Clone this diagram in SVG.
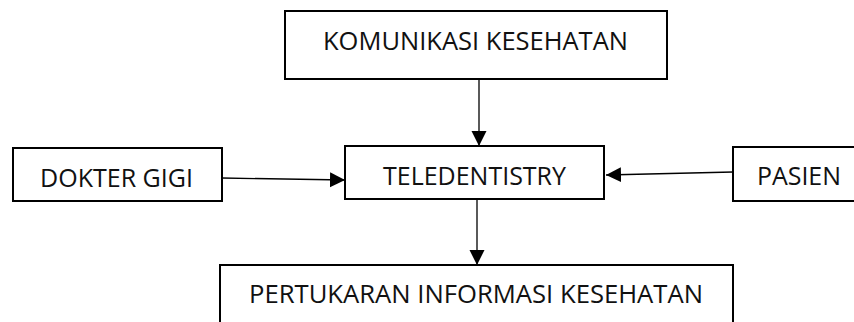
<svg xmlns="http://www.w3.org/2000/svg" width="854" height="322" viewBox="0 0 854 322">
<defs>
<style>
.box{fill:#fff;stroke:#000;stroke-width:2}
.lbl{font-family:"Open Sans","Liberation Sans",sans-serif;font-size:25.5px;fill:#111}
.con{stroke:#000;stroke-width:1.3;fill:none}
</style>
<marker id="ah" markerWidth="16" markerHeight="16" refX="15" refY="7.5" orient="auto" markerUnits="userSpaceOnUse">
<path d="M0,0 L15,7.5 L0,15 Z" fill="#000"/>
</marker>
</defs>
<rect width="854" height="322" fill="#fff"/>
<g id="komunikasi">
<rect class="box" x="285" y="11" width="382" height="68"/>
<text class="lbl" x="323" y="50" textLength="305" lengthAdjust="spacingAndGlyphs">KOMUNIKASI KESEHATAN</text>
</g>
<g id="teledentistry">
<rect class="box" x="345" y="146" width="259" height="53"/>
<text class="lbl" x="383" y="185" textLength="183" lengthAdjust="spacingAndGlyphs">TELEDENTISTRY</text>
</g>
<g id="dokter">
<rect class="box" x="13" y="148" width="209" height="53"/>
<text class="lbl" x="40" y="187" textLength="153" lengthAdjust="spacingAndGlyphs">DOKTER GIGI</text>
</g>
<g id="pasien">
<rect class="box" x="733" y="147" width="140" height="54"/>
<text class="lbl" x="757" y="185" textLength="84" lengthAdjust="spacingAndGlyphs">PASIEN</text>
</g>
<g id="pertukaran">
<rect class="box" x="220" y="265" width="513" height="80"/>
<text class="lbl" x="249" y="303" textLength="454" lengthAdjust="spacingAndGlyphs">PERTUKARAN INFORMASI KESEHATAN</text>
</g>
<g id="connectors">
<line class="con" x1="479" y1="79" x2="479" y2="146" marker-end="url(#ah)"/>
<line class="con" x1="222" y1="178" x2="345" y2="180" marker-end="url(#ah)"/>
<line class="con" x1="733" y1="172" x2="606" y2="175" marker-end="url(#ah)"/>
<line class="con" x1="477" y1="199" x2="477" y2="265" marker-end="url(#ah)"/>
</g>
</svg>
